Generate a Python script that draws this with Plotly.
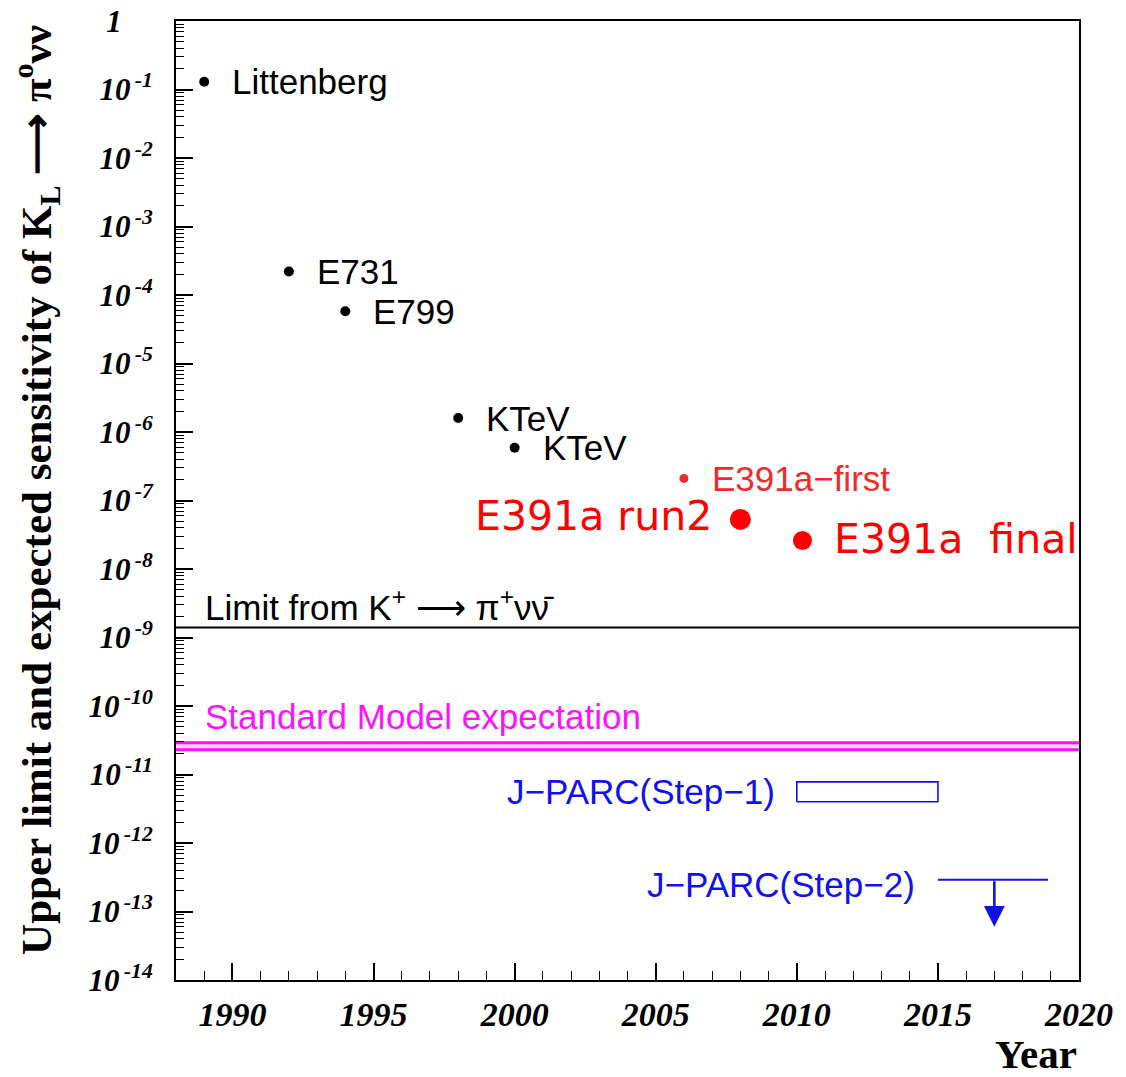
import numpy as np
import plotly.graph_objects as go

# ---- data -------------------------------------------------------------
# Published upper limits on BR(K_L -> pi0 nu nubar)
exp_names = ["Littenberg", "E731", "E799", "KTeV", "KTeV", "E391a\u2212first"]
exp_years = [1989, 1992, 1994, 1998, 2000, 2006]
exp_limits = [1.3e-1, 2.2e-4, 5.8e-5, 1.6e-6, 5.9e-7, 2.1e-7]
exp_colors = ["black", "black", "black", "black", "black", "#ee2a2a"]

# Later E391a results
e391_names = ["E391a run2", "E391a\u00a0 final"]
e391_years = [2008, 2010.2]
e391_limits = [5.3e-8, 2.6e-8]

# Indirect bound (Grossman-Nir) and Standard Model band
kplus_limit = 1.4e-9
sm_band = [2.3e-11, 2.9e-11]

# J-PARC expected sensitivities
step1_years = [2010, 2015]
step1_range = [4.0e-12, 7.8e-12]
step2_years = [2015, 2018.9]
step2_limit = 2.9e-13
step2_arrow_year = 2017
step2_arrow_tip = 6.0e-14

year_range = [1988, 2020]
year_ticks = [1990, 1995, 2000, 2005, 2010, 2015, 2020]
decades = list(range(0, -15, -1))

# ---- styling ----------------------------------------------------------
SANS = "Liberation Sans, Arial, sans-serif"
SERIF = "Liberation Serif, Times New Roman, serif"
LABEL_SIZE = 35
BLUE = "#1010f0"
MAGENTA = "#ff10ff"

fig = go.Figure()

# K+ -> pi+ nu nubar derived limit
fig.add_trace(go.Scatter(
    x=year_range, y=[kplus_limit, kplus_limit], mode="lines",
    line=dict(color="black", width=2), hoverinfo="skip"))

# Standard Model expectation band
fig.add_trace(go.Scatter(
    x=year_range, y=[sm_band[0]] * 2, mode="lines",
    line=dict(color=MAGENTA, width=3), hoverinfo="skip"))
fig.add_trace(go.Scatter(
    x=year_range, y=[sm_band[1]] * 2, mode="lines", fill="tonexty",
    fillcolor="rgba(255,170,255,0.45)",
    line=dict(color=MAGENTA, width=3), hoverinfo="skip"))

# J-PARC step-1 box
fig.add_trace(go.Scatter(
    x=[step1_years[0], step1_years[1], step1_years[1], step1_years[0], step1_years[0]],
    y=[step1_range[0], step1_range[0], step1_range[1], step1_range[1], step1_range[0]],
    mode="lines", line=dict(color=BLUE, width=1.6), hoverinfo="skip"))

# J-PARC step-2 line
fig.add_trace(go.Scatter(
    x=step2_years, y=[step2_limit, step2_limit], mode="lines",
    line=dict(color=BLUE, width=2), hoverinfo="skip"))

# Experimental limits
fig.add_trace(go.Scatter(
    x=exp_years, y=exp_limits, mode="markers",
    marker=dict(color=exp_colors, size=[10, 10, 10, 10, 10, 9], opacity=1,
                line=dict(width=0)),
    hoverinfo="x+y"))
fig.add_trace(go.Scatter(
    x=e391_years, y=e391_limits, mode="markers",
    marker=dict(color="#ff0000", size=[21, 19], opacity=1, line=dict(width=0)),
    hoverinfo="x+y"))

annotations = []

# labels of the experimental points
for name, yr, lim, col in zip(exp_names, exp_years, exp_limits, exp_colors):
    annotations.append(dict(
        x=yr, y=np.log10(lim), text=name, showarrow=False,
        xanchor="left", yanchor="middle", xshift=26,
        font=dict(family=SANS, size=LABEL_SIZE, color=col)))

annotations.append(dict(
    x=e391_years[0], y=np.log10(e391_limits[0]), text=e391_names[0], showarrow=False,
    xanchor="right", yanchor="middle", xshift=-26, yshift=3,
    font=dict(family="DejaVu Sans, sans-serif", size=41, color="#ff0000")))
annotations.append(dict(
    x=e391_years[1], y=np.log10(e391_limits[1]), text=e391_names[1], showarrow=False,
    xanchor="left", yanchor="middle", xshift=30, yshift=2,
    font=dict(family="DejaVu Sans, sans-serif", size=41, color="#ff0000")))

annotations.append(dict(
    x=year_range[0], y=np.log10(kplus_limit),
    text="Limit from K<sup>+</sup> \u27f6 \u03c0<sup>+</sup>\u03bd\u03bd\u0304",
    showarrow=False, xanchor="left", yanchor="middle", xshift=27, yshift=22,
    font=dict(family=SANS, size=LABEL_SIZE, color="black")))

annotations.append(dict(
    x=year_range[0], y=np.log10(sm_band[1]), text="Standard Model expectation",
    showarrow=False, xanchor="left", yanchor="middle", xshift=27, yshift=26,
    font=dict(family=SANS, size=LABEL_SIZE, color=MAGENTA)))

annotations.append(dict(
    x=step1_years[0], y=np.log10(np.sqrt(step1_range[0] * step1_range[1])),
    text="J\u2212PARC(Step\u22121)", showarrow=False,
    xanchor="right", yanchor="middle", xshift=-20,
    font=dict(family=SANS, size=LABEL_SIZE, color=BLUE)))

annotations.append(dict(
    x=step2_years[0], y=np.log10(step2_limit),
    text="J\u2212PARC(Step\u22122)", showarrow=False,
    xanchor="right", yanchor="middle", xshift=-21, yshift=-5,
    font=dict(family=SANS, size=LABEL_SIZE, color=BLUE)))

# downward arrow: the step-2 reach extends below the line
annotations.append(dict(
    x=step2_arrow_year, y=np.log10(step2_arrow_tip),
    ax=step2_arrow_year, ay=np.log10(step2_limit),
    xref="x", yref="y", axref="x", ayref="y", text="",
    showarrow=True, arrowhead=2, arrowsize=1.6, arrowwidth=2.6, arrowcolor=BLUE))

# axis titles
annotations.append(dict(
    xref="paper", yref="paper", x=-0.154, y=0.511,
    text="Upper limit and expected sensitivity of K<sub>L</sub> \u27f6 \u03c0<sup>o</sup>\u03bd\u03bd",
    textangle=-90, showarrow=False, xanchor="center", yanchor="middle",
    font=dict(family=SERIF, size=43, color="black", weight="bold")))
annotations.append(dict(
    xref="paper", yref="paper", x=1.0, y=-0.077, text="Year",
    showarrow=False, xanchor="right", yanchor="middle",
    font=dict(family=SERIF, size=41, color="black", weight="bold")))

y_ticktext = ["1\u00a0\u00a0\u00a0\u00a0"] + \
    ["10<sup>\u2009%d</sup>" % d for d in decades[1:]]
minor_vals = [m * 10.0 ** k for k in range(-14, 0) for m in range(2, 10)]

fig.update_layout(
    width=1126, height=1077,
    margin=dict(l=176, r=47, t=21, b=97, autoexpand=False),
    paper_bgcolor="white", plot_bgcolor="white",
    showlegend=False,
    annotations=annotations,
    xaxis=dict(
        range=year_range, showgrid=False, zeroline=False, automargin=False,
        showline=True, linecolor="black", linewidth=2, mirror=True,
        tickmode="array", tickvals=year_ticks,
        ticks="inside", ticklen=17, tickwidth=1.5, tickcolor="black",
        minor=dict(ticks="inside", ticklen=9, tickwidth=1.3, dtick=1, tickcolor="black"),
        ticklabelstandoff=3,
        tickfont=dict(family=SERIF, size=34, color="black", weight="bold", style="italic")),
    yaxis=dict(
        type="log", range=[-14, 0], showgrid=False, zeroline=False, automargin=False,
        showline=True, linecolor="black", linewidth=2, mirror=True,
        tickmode="array", tickvals=[10.0 ** d for d in decades], ticktext=y_ticktext,
        ticks="inside", ticklen=17, tickwidth=1.5, tickcolor="black",
        minor=dict(ticks="inside", ticklen=8, tickwidth=1.2, tickvals=minor_vals,
                   tickcolor="black"),
        ticklabelstandoff=15,
        tickfont=dict(family=SERIF, size=31, color="black", weight="bold", style="italic")),
)

fig.write_html("out.html")
